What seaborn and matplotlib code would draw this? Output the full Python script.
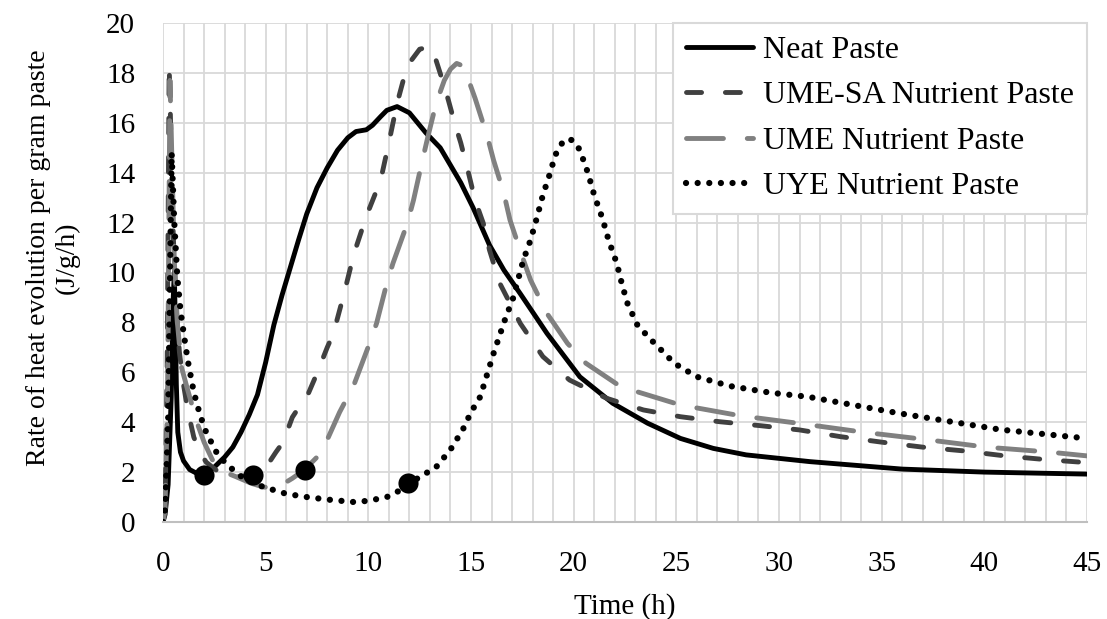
import matplotlib
matplotlib.use("Agg")
import matplotlib.pyplot as plt
import seaborn as sns

# ---------------- data ----------------
neat_x = [0, 0.1, 0.25, 0.4, 0.5, 0.55, 0.6, 0.65, 0.72, 0.85, 1.0, 1.3, 1.6, 2.0, 2.5,
          3.0, 3.4, 3.8, 4.2, 4.6, 5.0, 5.4, 5.8, 6.2, 6.6, 7.0, 7.5, 8.0, 8.5, 9.0,
          9.4, 9.9, 10.2, 10.6, 10.9, 11.4, 12.0, 12.8, 13.5, 14.5, 15.1, 15.9, 16.6, 17.4, 18.7,
          20.3, 21.9, 23.6, 25.2, 26.8, 28.4, 31.5, 36, 40, 45]
neat_y = [0, 0.3, 1.5, 5.0, 9.0, 10.0, 8.0, 5.5, 3.6, 2.8, 2.45, 2.1, 1.97, 1.9, 2.2,
          2.6, 3.0, 3.6, 4.3, 5.1, 6.4, 7.9, 9.1, 10.2, 11.3, 12.35, 13.4, 14.2, 14.9, 15.4,
          15.65, 15.72, 15.9, 16.25, 16.5, 16.65, 16.4, 15.6, 15.0, 13.6, 12.6, 11.1, 10.1, 9.15, 7.56,
          5.82, 4.76, 3.96, 3.35, 2.95, 2.69, 2.42, 2.12, 2.0, 1.92]

umesa_x = [0, 0.1, 0.2, 0.3, 0.4, 0.5, 0.65, 0.8, 1.0, 1.2, 1.5, 1.8, 2.1, 2.4, 2.8,
           3.2, 3.6, 4.0, 4.4, 4.8, 5.1, 5.5, 5.85, 6.3, 6.7, 7.0, 7.5, 8.0, 8.3, 8.8,
           9.3, 9.9, 10.6, 11.0, 11.4, 11.7, 12.0, 12.5, 13.0, 13.3, 13.65, 13.9, 14.2, 14.5, 14.8,
           15.2, 15.6, 15.9, 16.4, 17.4, 18.5, 19.8, 21.6, 23.4, 25.2, 27.1, 29.1, 31, 33, 35,
           37, 39, 41, 43, 45]
umesa_y = [0, 0.5, 6, 18.3, 15, 11.5, 8.5, 6.8, 5.5, 4.5, 3.4, 2.8, 2.4, 2.2, 1.95,
           1.8, 1.8, 1.85, 1.9, 2.05, 2.3, 2.8, 3.2, 4.2, 4.7, 5.0, 5.96, 7.0, 7.56, 9.1,
           10.75, 12.25, 13.7, 15.2, 16.78, 17.7, 18.4, 18.95, 19.05, 18.5, 17.6, 16.9, 16.0, 15.2, 14.25,
           12.9, 11.97, 10.9, 9.57, 7.96, 6.63, 5.69, 4.96, 4.49, 4.22, 4.02, 3.86, 3.69, 3.42, 3.2,
           3.0, 2.85, 2.65, 2.5, 2.38]

ume_x = [0, 0.1, 0.22, 0.34, 0.45, 0.55, 0.7, 0.9, 1.2, 1.65, 2.0, 2.4, 3.0, 3.6, 4.3,
         4.9, 5.3, 5.8, 6.3, 6.9, 7.5, 8.0, 8.6, 9.3, 10.0, 10.4, 10.9, 11.2, 11.9, 12.2,
         12.6, 12.9, 13.3, 13.7, 14.0, 14.3, 14.55, 14.8, 15.2, 15.8, 16.1, 16.6, 16.9, 17.5, 17.9,
         18.7, 19.7, 20.6, 22.3, 25.2, 28.1, 30.9, 34.1, 37.2, 40.1, 43.2, 45]
ume_y = [0, 0.5, 5, 17.7, 14, 10.5, 8, 6.2, 5.3, 4.0, 3.2, 2.5, 2.0, 1.8, 1.55,
         1.4, 1.38, 1.5, 1.75, 2.1, 2.6, 3.3, 4.4, 5.5, 7.03, 7.96, 9.57, 10.37, 11.97, 12.9,
         14.38, 15.44, 16.78, 17.7, 18.15, 18.38, 18.3, 17.9, 16.98, 15.44, 14.5, 13.17, 12.1, 10.63, 9.7,
         8.36, 7.16, 6.36, 5.42, 4.69, 4.26, 3.96, 3.6, 3.3, 3.0, 2.8, 2.65]

uye_x = [0, 0.1, 0.25, 0.42, 0.55, 0.7, 0.85, 1.0, 1.2, 1.5, 1.8, 2.1, 2.6, 3.0, 3.4,
         4.0, 4.9, 5.4, 6.0, 7.0, 8.0, 9.3, 10.0, 10.9, 11.5, 12.0, 12.6, 13.3, 14.0, 14.6,
         15.0, 15.45, 16.1, 16.65, 17.05, 17.55, 17.9, 18.2, 18.5, 18.85, 19.1, 19.5, 19.75, 20.0, 20.3,
         20.7, 21.0, 21.4, 21.7, 22.1, 22.3, 22.6, 23.1, 23.7, 24.1, 24.9, 26.0, 27.6, 29.6, 31.4,
         35.9, 40.8, 45]
uye_y = [0, 0.5, 4, 14.8, 12, 9.8, 8.5, 7.6, 6.5, 5.2, 4.3, 3.6, 2.8, 2.4, 2.1,
         1.7, 1.4, 1.28, 1.13, 1.0, 0.9, 0.8, 0.85, 1.0, 1.25, 1.55, 1.85, 2.2, 2.9, 3.7,
         4.4, 5.02, 6.76, 8.1, 8.97, 10.5, 11.3, 12.17, 13.1, 13.98, 14.7, 15.28, 15.35, 15.28, 14.91,
         13.98, 13.1, 12.17, 11.3, 10.37, 9.7, 8.8, 7.9, 7.36, 7.03, 6.36, 5.82, 5.45, 5.18, 5.02,
         4.35, 3.7, 3.35]

marker_x = [2.0, 4.4, 6.9, 11.95]
marker_y = [1.9, 1.9, 2.1, 1.55]

series_labels = ["Neat Paste", "UME-SA Nutrient Paste", "UME Nutrient Paste", "UYE Nutrient Paste"]
x_ticks = [0, 5, 10, 15, 20, 25, 30, 35, 40, 45]
y_ticks = [0, 2, 4, 6, 8, 10, 12, 14, 16, 18, 20]

# ---------------- style ----------------
sns.set_theme(style="whitegrid")
plt.rcParams['font.family'] = ['Liberation Serif', 'DejaVu Serif']
plt.rcParams['text.color'] = 'black'
plt.rcParams['axes.labelcolor'] = 'black'
plt.rcParams['xtick.color'] = 'black'
plt.rcParams['ytick.color'] = 'black'

fig = plt.figure(figsize=(11.07, 6.19), dpi=100)
ax = fig.add_axes([163 / 1107, 97 / 619, 924 / 1107, 499 / 619])

styles = [
    dict(color="#000000", linestyle="-", lw=3.5),
    dict(color="#404040", linestyle=(0, (3.1, 4.9)), lw=3.5),
    dict(color="#808080", linestyle=(0, (7.6, 4.9)), lw=3.5),
    dict(color="#000000", linestyle=(0, (0.01, 1.85)), lw=4.5),
]
data = [(neat_x, neat_y), (umesa_x, umesa_y), (ume_x, ume_y), (uye_x, uye_y)]

for (xs, ys), lab, st in zip(data, series_labels, styles):
    sns.lineplot(x=xs, y=ys, ax=ax, sort=False, estimator=None, label=lab,
                 dash_capstyle='round', solid_capstyle='round', **st)

sns.scatterplot(x=marker_x, y=marker_y, ax=ax, color='black', s=210,
                edgecolor='black', linewidth=0, zorder=6, legend=False)

ax.set_xlim(0, 45)
ax.set_ylim(0, 20)
ax.set_xticks(x_ticks)
ax.set_xticks(range(0, 46), minor=True)
ax.set_yticks(y_ticks)
ax.grid(which='both', axis='x', color='#d9d9d9', lw=1.3)
ax.grid(which='major', axis='y', color='#d9d9d9', lw=1.3)
ax.set_axisbelow(True)
for s in ['top', 'right', 'left']:
    ax.spines[s].set_visible(False)
ax.spines['bottom'].set_color('#bfbfbf')
ax.spines['bottom'].set_linewidth(1.5)

ax.tick_params(axis='both', which='both', length=0, labelsize=21)
ax.tick_params(axis='y', pad=20)
ax.tick_params(axis='x', pad=21)

ax.set_xlabel("Time (h)", fontsize=21)
ax.xaxis.set_label_coords(0.5, -0.142)
ax.set_ylabel("Rate of heat evolution per gram paste\n(J/g/h)", fontsize=20,
              multialignment='center')
ax.yaxis.set_label_coords(-0.09, 0.53)

leg = ax.legend(loc='upper right', fontsize=23, frameon=True, fancybox=False,
                framealpha=1, edgecolor='#d9d9d9', borderaxespad=0,
                handlelength=2.1, handletextpad=0.31, labelspacing=0.5,
                borderpad=0.4)
leg.get_frame().set_linewidth(1.5)
for t in leg.get_texts():
    t.set_color('black')

fig.savefig("out.png", dpi=100)
